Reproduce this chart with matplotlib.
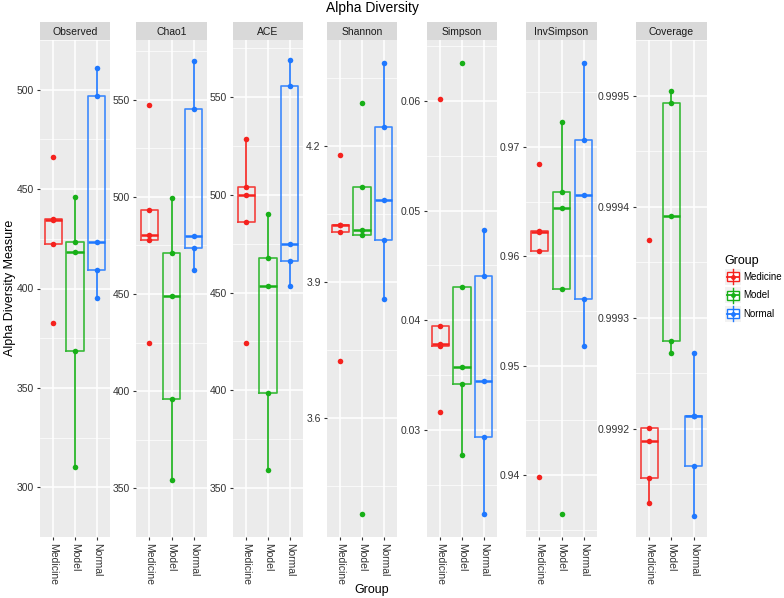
import numpy as np
import matplotlib
matplotlib.use("Agg")
import matplotlib.pyplot as plt
from matplotlib.patches import Rectangle

plt.rcParams['font.family'] = ['Liberation Sans', 'DejaVu Sans']

groups = ["Medicine", "Model", "Normal"]
metrics = ["Observed", "Chao1", "ACE", "Shannon", "Simpson", "InvSimpson", "Coverage"]

observed = [[466.2, 434.9, 434.3, 422.5, 382.4],
            [446.2, 423.4, 418.4, 368.4, 310.4],
            [510.9, 497.0, 423.4, 409.4, 395.3]]
chao1 = [[547.3, 493.2, 480.4, 477.9, 425.0],
         [499.2, 471.3, 448.9, 395.9, 354.3],
         [569.9, 545.3, 480.1, 473.9, 462.2]]
ace = [[528.5, 504.2, 500.0, 486.1, 424.4],
       [490.0, 467.5, 453.3, 398.5, 359.3],
       [568.7, 555.8, 474.8, 466.3, 453.6]]
shannon = [[4.180, 4.027, 4.026, 4.010, 3.725],
           [4.296, 4.110, 4.016, 4.004, 3.387],
           [4.385, 4.243, 4.082, 3.993, 3.862]]
simpson = [[0.0602, 0.0395, 0.0378, 0.0377, 0.0316],
           [0.0635, 0.0430, 0.0357, 0.0342, 0.0277],
           [0.0482, 0.0440, 0.03445, 0.0294, 0.0223]]
invsimpson = [[0.9684, 0.9623, 0.9622, 0.9605, 0.9398],
              [0.9723, 0.9659, 0.9644, 0.9570, 0.9364],
              [0.9777, 0.9706, 0.9656, 0.9561, 0.9518]]
coverage = [[0.9993700, 0.9992005, 0.9991893, 0.9991555, 0.9991330],
            [0.9995042, 0.9994930, 0.9993919, 0.9992792, 0.9992679],
            [0.9992679, 0.9992118, 0.9992117, 0.9991667, 0.9991218]]

all_data = [observed, chao1, ace, shannon, simpson, invsimpson, coverage]

yticks = [[300, 350, 400, 450, 500],
          [350, 400, 450, 500, 550],
          [350, 400, 450, 500, 550],
          [3.6, 3.9, 4.2],
          [0.03, 0.04, 0.05, 0.06],
          [0.94, 0.95, 0.96, 0.97],
          [0.9992, 0.9993, 0.9994, 0.9995]]
ytick_labels = [["300", "350", "400", "450", "500"],
                ["350", "400", "450", "500", "550"],
                ["350", "400", "450", "500", "550"],
                ["3.6", "3.9", "4.2"],
                ["0.03", "0.04", "0.05", "0.06"],
                ["0.94", "0.95", "0.96", "0.97"],
                ["0.9992", "0.9993", "0.9994", "0.9995"]]

colors = ["#F5221E", "#18B018", "#1F78FF"]

W, H = 784, 598
fig = plt.figure(figsize=(W / 100, H / 100), dpi=100)
fig.patch.set_facecolor("white")

panel_x = [(40, 110), (136, 207), (233, 303), (327, 397), (427, 497), (526, 597), (636, 707)]
top_px, bot_px = 40, 537
strip_h = 18

def fx(px):
    return px / W

def fy(py):
    return 1 - py / H

for i, (metric, data) in enumerate(zip(metrics, all_data)):
    x0, x1 = panel_x[i]
    ax = fig.add_axes([fx(x0), fy(bot_px), fx(x1 - x0), (bot_px - top_px) / H])
    ax.set_facecolor("#EBEBEB")
    for s in ax.spines.values():
        s.set_visible(False)
    for g in range(3):
        d = np.array(data[g])
        ax.boxplot(d, positions=[g + 1], widths=0.78, whis=1.5, showfliers=False,
                   showcaps=False, patch_artist=False, manage_ticks=False,
                   boxprops=dict(color=colors[g], lw=1.2, alpha=0.85),
                   whiskerprops=dict(color=colors[g], lw=1.2),
                   medianprops=dict(color=colors[g], lw=1.8))
        ax.plot(np.full(len(d), g + 1), d, 'o', color=colors[g], ms=4, mec='none', zorder=5)
    vals = np.concatenate([np.array(d) for d in data])
    lo, hi = vals.min(), vals.max()
    pad = (hi - lo) * 0.05
    ax.set_ylim(lo - pad, hi + pad)
    ax.set_xlim(0.4, 3.6)
    yt = yticks[i]
    ax.set_yticks(yt)
    ax.set_yticklabels(ytick_labels[i])
    step = yt[1] - yt[0]
    minors = [t - step / 2 for t in yt] + [yt[-1] + step / 2]
    ax.set_yticks(minors, minor=True)
    ax.tick_params(axis='y', which='minor', length=0)
    ax.grid(True, which='major', color='white', lw=1.1, zorder=0)
    ax.grid(True, which='minor', axis='y', color='white', lw=0.5, zorder=0)
    ax.set_axisbelow(True)
    ax.set_xticks([1, 2, 3])
    ax.set_xticklabels(groups, rotation=270, va='top', ha='center')
    ax.tick_params(axis='both', which='major', length=2.5, width=0.8, color='#333333',
                   labelsize=7.5, labelcolor='#333333', pad=2)
    # strip
    sx = fig.add_axes([fx(x0), fy(top_px), fx(x1 - x0), strip_h / H])
    sx.set_facecolor("#D9D9D9")
    sx.set_xticks([]); sx.set_yticks([])
    for s in sx.spines.values():
        s.set_visible(False)
    sx.text(0.5, 0.45, metric, ha='center', va='center', fontsize=7.5, color='#1A1A1A',
            transform=sx.transAxes)

fig.text(fx(372), fy(8), "Alpha Diversity", ha='center', va='center', fontsize=10, color='black')
fig.text(fx(10), fy(288), "Alpha Diversity Measure", ha='center', va='center', rotation=90,
         fontsize=9, color='black')
fig.text(fx(372), fy(590), "Group", ha='center', va='center', fontsize=9, color='black')

# legend
fig.text(fx(724), fy(261), "Group", ha='left', va='center', fontsize=9, color='black')
lax = fig.add_axes([fx(722), fy(325), fx(62), 57 / H])
lax.set_xlim(0, 62); lax.set_ylim(57, 0); lax.axis('off')
for g in range(3):
    yc = 9 + g * 18.3
    lax.add_patch(Rectangle((3, yc - 8), 16, 16, fc='#F2F2F2', ec='none'))
    lax.add_patch(Rectangle((5, yc - 4.5), 12, 9, fc='white', ec=colors[g], lw=1.0))
    lax.plot([11, 11], [yc - 7.5, yc + 7.5], color=colors[g], lw=1.0)
    lax.plot([5, 17], [yc, yc], color=colors[g], lw=1.3)
    lax.plot([11], [yc], 'o', color=colors[g], ms=3.5, mec='none')
    lax.text(21.5, yc, groups[g], ha='left', va='center', fontsize=7, color='black')

fig.savefig("out.png", dpi=100, facecolor="white")
